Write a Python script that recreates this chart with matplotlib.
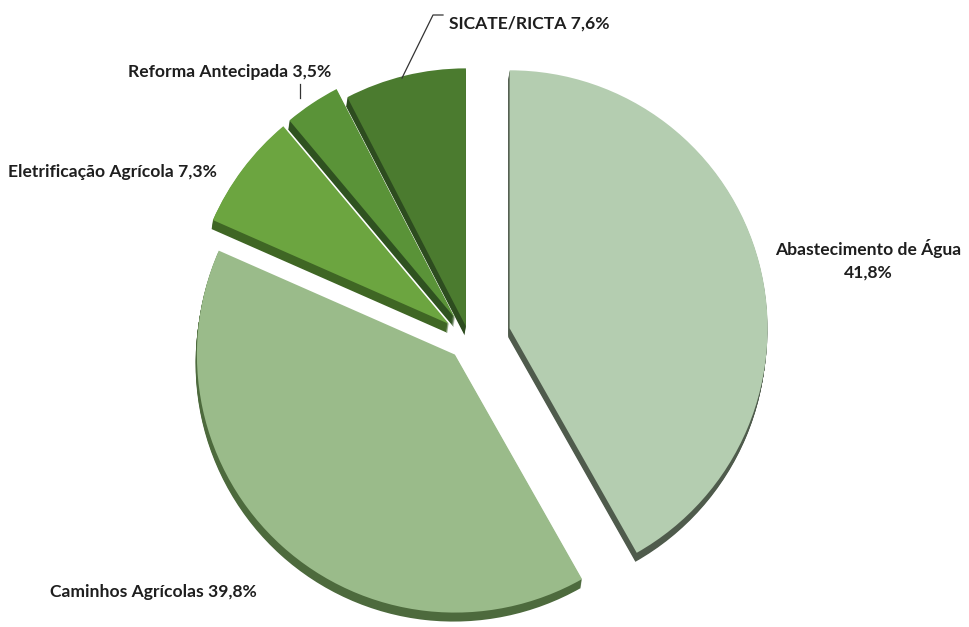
import matplotlib
matplotlib.use("Agg")
import matplotlib.pyplot as plt

# Share of investment per programme (%)
categories = ["Abastecimento de Água", "Caminhos Agrícolas",
              "Eletrificação Agrícola", "Reforma Antecipada", "SICATE/RICTA"]
shares = [41.8, 39.8, 7.3, 3.5, 7.6]
labels = ["Abastecimento de Água\n41,8%", "Caminhos Agrícolas 39,8%",
          "Eletrificação Agrícola 7,3%", "Reforma Antecipada 3,5%",
          "SICATE/RICTA 7,6%"]

W, H = 969, 627
plt.rcParams["font.family"] = ["Lato", "DejaVu Sans"]

fig = plt.figure(figsize=(W / 100, H / 100), dpi=100)
ax = fig.add_axes([0, 0, 1, 1])

R = 258
cx, cy = 469, H - 339
# explode distances in data units (pixels here)
explode = [42, 21, 25, 25, 13]

top_colors = ["#b4cdb0", "#9abb8a", "#6ca540", "#5a9338", "#4b7b2f"]
side_colors = ["#4f5b4c", "#4d6a3d", "#3f6624", "#2f5220", "#2d4c1f"]

common = dict(explode=explode, radius=R, startangle=90, counterclock=False,
              wedgeprops=dict(linewidth=0))

# extruded side of the 3D pie: stacked copies shifted downwards
depth = 9
for k in range(depth, 0, -1):
    ax.pie(shares, colors=side_colors, center=(cx - 0.15 * k, cy - k), **common)

# top face
ax.pie(shares, colors=top_colors, center=(cx, cy), **common)

ax.set_xlim(0, W)
ax.set_ylim(0, H)
ax.set_aspect("auto")
ax.axis("off")

txt = dict(fontsize=12.6, fontweight="bold", color="#1e1e1e")

def py(y):
    return H - y

ax.text(868, py(260), labels[0], ha="center", va="center",
        linespacing=1.5, **txt)
ax.text(50, py(592), labels[1], ha="left", va="center", **txt)
ax.text(8, py(172), labels[2], ha="left", va="center", **txt)
ax.text(128, py(72), labels[3], ha="left", va="center", **txt)
ax.text(449, py(24), labels[4], ha="left", va="center", **txt)

# leader lines
ax.plot([402, 433, 443], [py(78), py(15), py(15)], color="#333333", lw=0.9)
ax.plot([300, 300], [py(84), py(98)], color="#333333", lw=0.9)

fig.savefig("out.png", dpi=100)
